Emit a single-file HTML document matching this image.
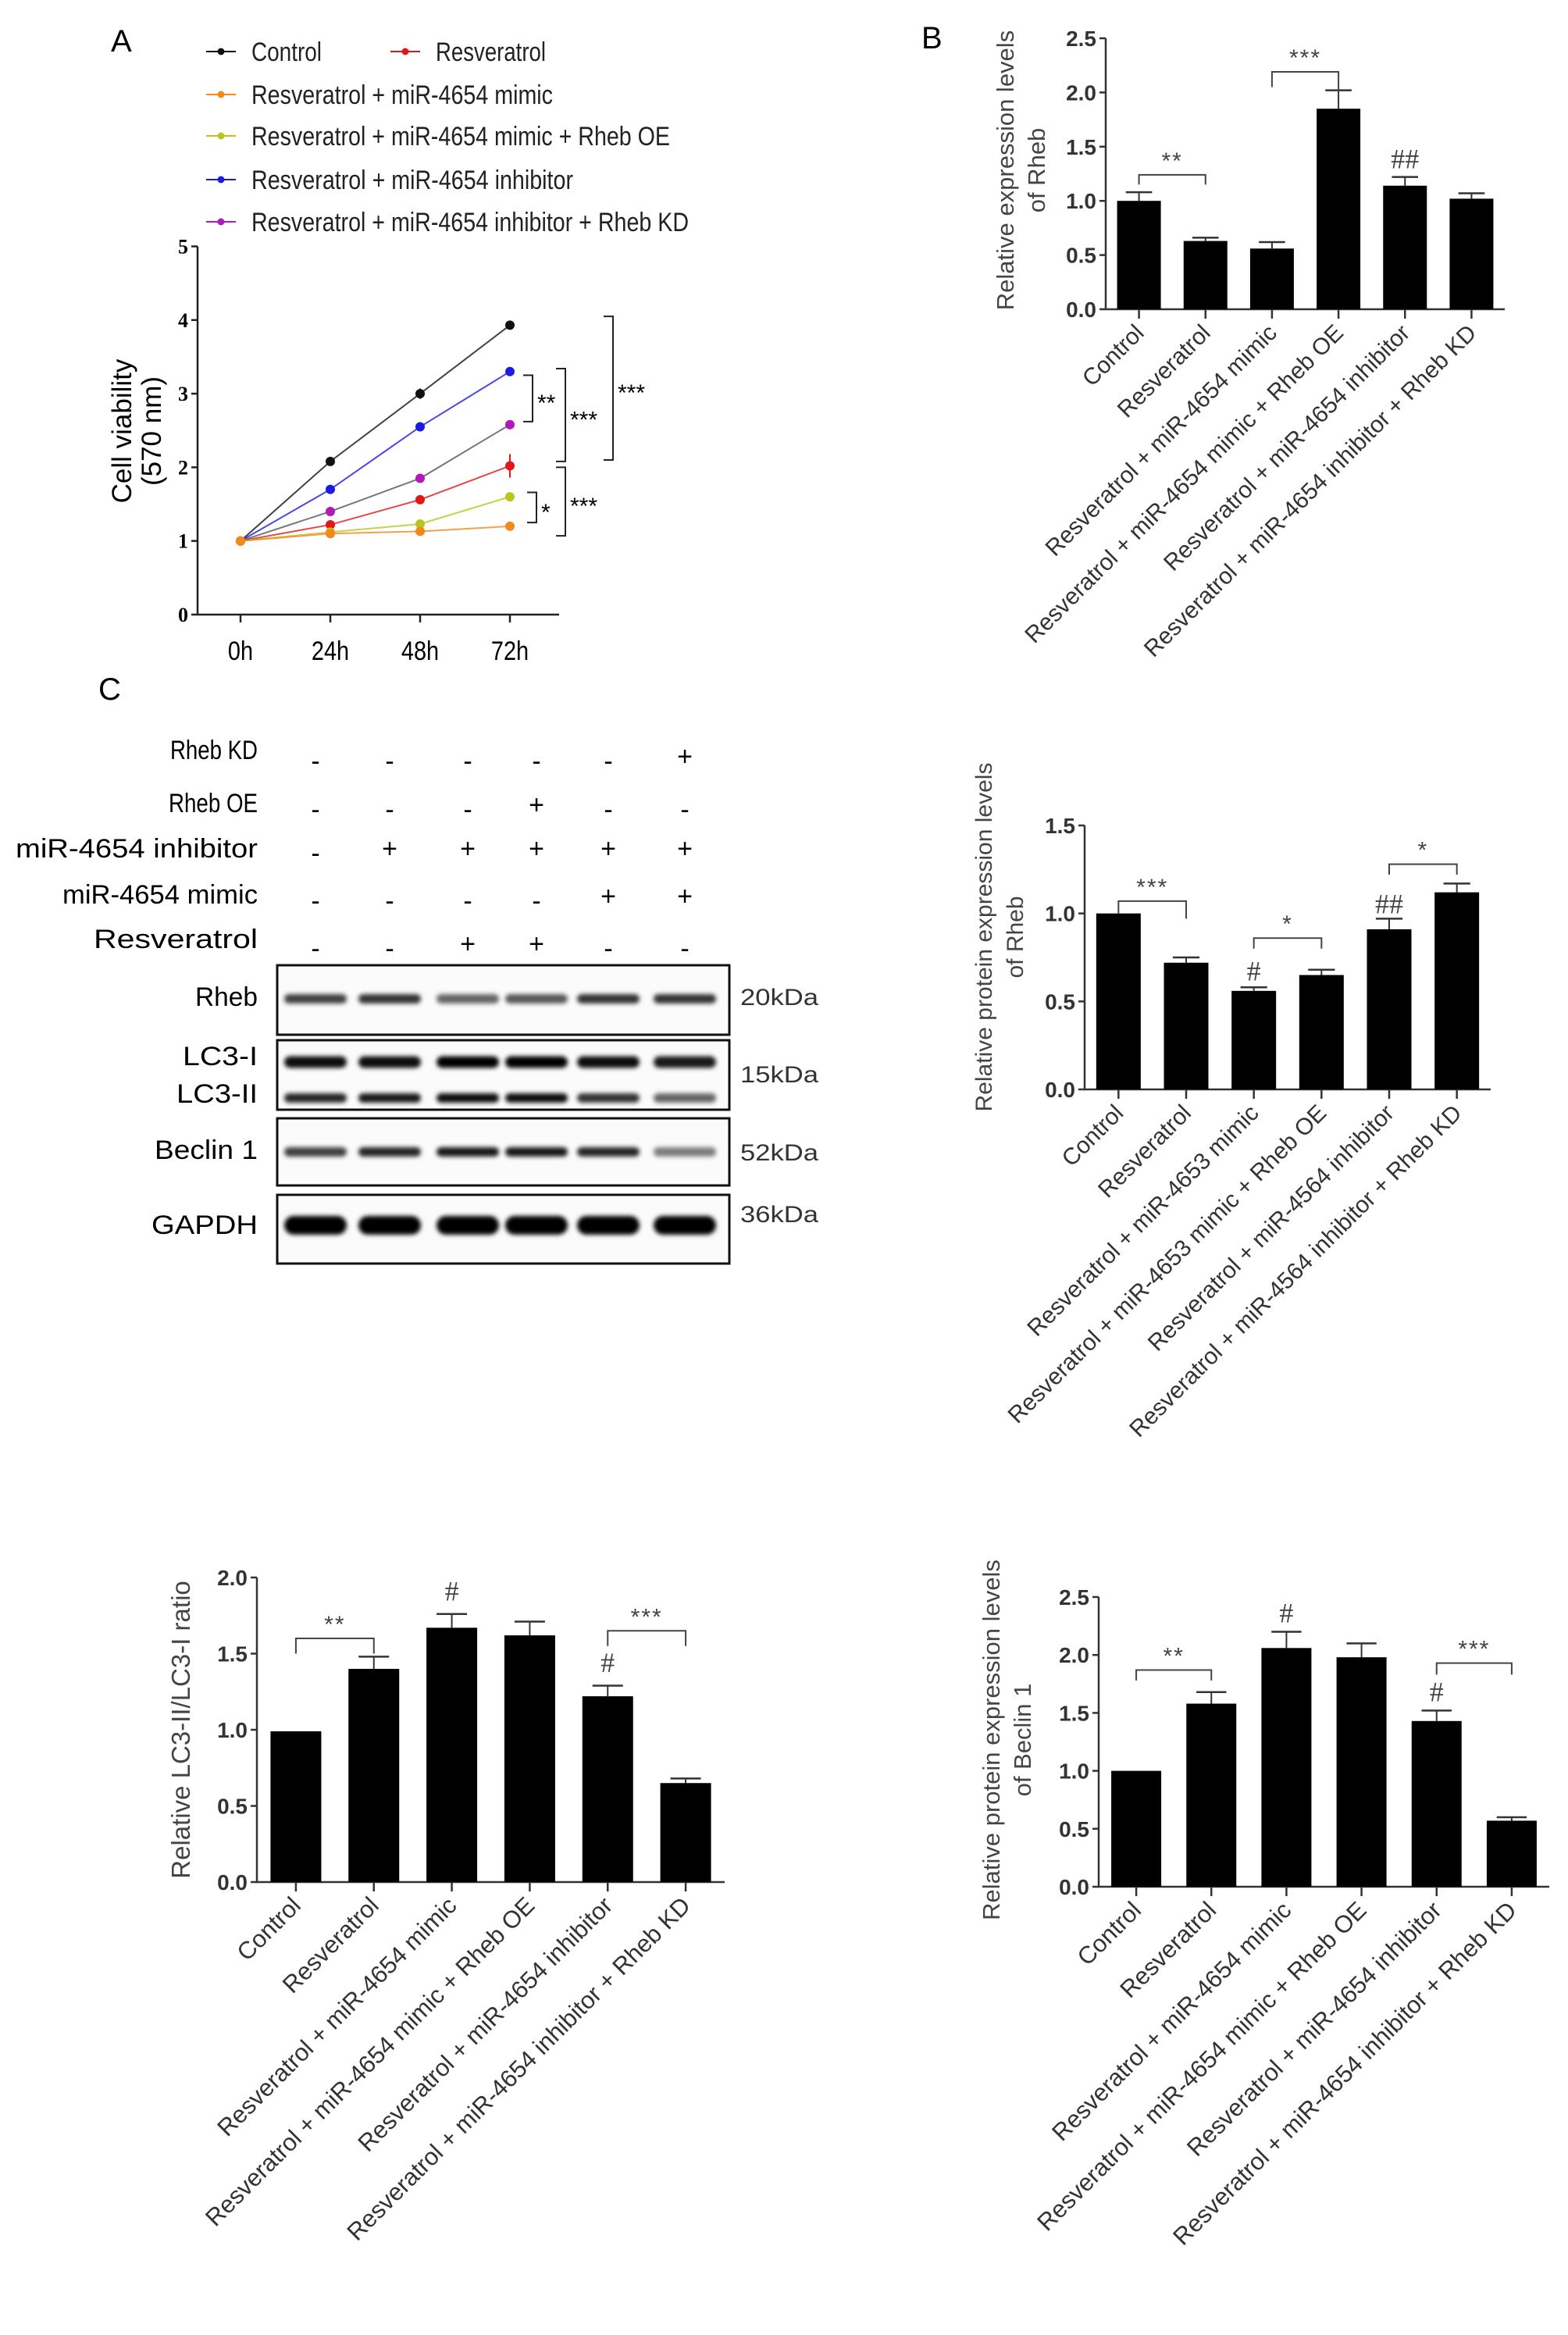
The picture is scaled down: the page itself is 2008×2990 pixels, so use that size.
<!DOCTYPE html>
<html><head><meta charset="utf-8"><style>
html,body{margin:0;padding:0;background:#fff;}
svg{display:block;font-family:"Liberation Sans",Arial,sans-serif;}
</style></head><body>
<svg id="fig" width="2008" height="2990" viewBox="0 0 2008 2990" xmlns="http://www.w3.org/2000/svg">
<defs><filter id="blur" x="-20%" y="-80%" width="140%" height="260%"><feGaussianBlur stdDeviation="3"/></filter></defs>
</svg>
<script>
// ---- Panel A data ----
const timeLabels = ["0h","24h","48h","72h"];
const seriesNames = ["Control","Resveratrol","Resveratrol + miR-4654 mimic","Resveratrol + miR-4654 mimic + Rheb OE","Resveratrol + miR-4654 inhibitor","Resveratrol + miR-4654 inhibitor + Rheb KD"];
const seriesColors = ["#111111","#e01818","#f08a1c","#b8c61e","#1a1ae0","#b01ab8"];
const valControl = [1.0, 2.08, 3.0, 3.93];
const valResv = [1.0, 1.22, 1.56, 2.02];
const valMimic = [1.0, 1.10, 1.13, 1.20];
const valMimicOE = [1.0, 1.12, 1.23, 1.60];
const valInhib = [1.0, 1.70, 2.55, 3.30];
const valInhibKD = [1.0, 1.40, 1.85, 2.58];
const errA = [0.04, 0.03, 0.06, 0.16];
const yTicksA = [0,1,2,3,4,5];

// ---- Bar charts data ----
const catsB = ["Control","Resveratrol","Resveratrol + miR-4654 mimic","Resveratrol + miR-4654 mimic + Rheb OE","Resveratrol + miR-4654 inhibitor","Resveratrol + miR-4654 inhibitor + Rheb KD"];
const valsB = [1.0, 0.63, 0.56, 1.85, 1.14, 1.02];
const errsB = [0.08, 0.03, 0.06, 0.17, 0.08, 0.05];
const ticksB = [0, 0.5, 1.0, 1.5, 2.0, 2.5];

const catsRheb = ["Control","Resveratrol","Resveratrol + miR-4653 mimic","Resveratrol + miR-4653 mimic + Rheb OE","Resveratrol + miR-4564 inhibitor","Resveratrol + miR-4564 inhibitor + Rheb KD"];
const valsRheb = [1.0, 0.72, 0.56, 0.65, 0.91, 1.12];
const errsRheb = [0, 0.03, 0.02, 0.03, 0.06, 0.05];
const ticksRheb = [0, 0.5, 1.0, 1.5];

const catsLC3 = catsB;
const valsLC3 = [0.99, 1.40, 1.67, 1.62, 1.22, 0.65];
const errsLC3 = [0, 0.08, 0.09, 0.09, 0.07, 0.03];
const ticksLC3 = [0, 0.5, 1.0, 1.5, 2.0];

const catsBec = catsB;
const valsBec = [1.0, 1.58, 2.06, 1.98, 1.43, 0.57];
const errsBec = [0, 0.10, 0.14, 0.12, 0.09, 0.03];
const ticksBec = [0, 0.5, 1.0, 1.5, 2.0, 2.5];

// ---- Blot data ----
const treatRows = ["Rheb KD","Rheb OE","miR-4654 inhibitor","miR-4654 mimic","Resveratrol"];
const treatSigns = [["-","-","-","-","-","+"],["-","-","-","+","-","-"],["-","+","+","+","+","+"],["-","-","-","-","+","+"],["-","-","+","+","-","-"]];
const bandRheb = [0.75,0.8,0.6,0.65,0.8,0.8];
const bandLC3I = [0.95,0.95,1,1,0.95,0.9];
const bandLC3II = [0.85,0.9,0.95,0.95,0.8,0.6];
const bandBeclin = [0.75,0.85,0.9,0.9,0.85,0.5];
const bandGAPDH = [1,1,1,1,1,1];

const svg = document.getElementById('fig');
const NS = "http://www.w3.org/2000/svg";
function mk(tag, attrs, parent, text){
  const e = document.createElementNS(NS, tag);
  for (const k in attrs) e.setAttribute(k, attrs[k]);
  if (text !== undefined) e.textContent = text;
  (parent || svg).appendChild(e);
  return e;
}
function grp(name){ const g = mk('g', {});   return g; }

// ================= Panel A =================
(function(){
  const g = grp('panel-a-line-chart');
  const x0 = 253, xEnd = 716, y0 = 787, pxPerUnit = 94.3;
  const sx = i => 308 + i*115;
  const sy = v => y0 - v*pxPerUnit;
  let t = mk('text',{x:142,y:66,'font-size':40},g,'A');
   
  let ax = mk('path',{d:`M${x0},${sy(5)} L${x0},${y0} L${xEnd},${y0}`,stroke:'#222','stroke-width':2.5,fill:'none'},g);
   
  yTicksA.forEach(v=>{
    mk('line',{x1:x0-8,x2:x0,y1:sy(v),y2:sy(v),stroke:'#222','stroke-width':2.5},g);
    const tl = mk('text',{x:x0-12,y:sy(v)+9,'font-size':26,'font-family':'Liberation Serif, serif','font-weight':'bold','text-anchor':'end'},g,String(v));
     
  });
  timeLabels.forEach((l,i)=>{
    mk('line',{x1:sx(i),x2:sx(i),y1:y0,y2:y0+10,stroke:'#222','stroke-width':2.5},g);
    const tl = mk('text',{x:sx(i),y:845,'font-size':34,'text-anchor':'middle',transform:`translate(${sx(i)},0) scale(0.85,1) translate(${-sx(i)},0)`},g,l);
     
  });
  const yl = mk('text',{'font-size':35,'text-anchor':'middle',transform:'translate(168,552) rotate(-90)'},g);
   
  mk('tspan',{x:0,y:0},yl,'Cell viability');
  mk('tspan',{x:0,y:38},yl,'(570 nm)');
  const allSeries = [valControl,valResv,valMimic,valMimicOE,valInhib,valInhibKD];
  const order = [0,4,5,1,3,2];
  order.forEach(si=>{
    const vals = allSeries[si], c = seriesColors[si];
    const lineCol = (si===5)? '#555' : c;
    const pts = vals.map((v,i)=>`${sx(i)},${sy(v)}`).join(' ');
    const pl = mk('polyline',{points:pts,fill:'none',stroke:lineCol,'stroke-width':2,'stroke-opacity':0.8},g);
     
    vals.forEach((v,i)=>{
      if (si===1 && i===3){ mk('line',{x1:sx(i),x2:sx(i),y1:sy(v+errA[i]),y2:sy(v-errA[i]),stroke:c,'stroke-width':2},g); }
      if (si===0 && i===2){ mk('line',{x1:sx(i),x2:sx(i),y1:sy(v+0.07),y2:sy(v-0.07),stroke:c,'stroke-width':2},g); }
      const p = mk('circle',{cx:sx(i),cy:sy(v),r:6,fill:c},g);
       
    });
  });
  const legY = [56,56,111,164,220,274];
  const legX = [264,500,264,264,264,264];
  const legLen = [90,141,386,536,412,560];
  seriesNames.forEach((n,i)=>{
    const lg = mk('g',{},g);
     
    mk('line',{x1:legX[i],x2:legX[i]+38,y1:legY[i]+10,y2:legY[i]+10,stroke:seriesColors[i],'stroke-width':2},lg);
    mk('circle',{cx:legX[i]+19,cy:legY[i]+10,r:4.5,fill:seriesColors[i]},lg);
    mk('text',{x:legX[i]+58,y:legY[i]+22,'font-size':34,textLength:legLen[i],lengthAdjust:'spacingAndGlyphs',fill:'#222'},lg,n);
  });
  function br(x, v1, v2, label){
    const b = mk('g',{},g);
     
    mk('path',{d:`M${x-12},${sy(v1)} L${x},${sy(v1)} L${x},${sy(v2)} L${x-12},${sy(v2)}`,fill:'none',stroke:'#222','stroke-width':2},b);
    mk('text',{x:x+6,y:(sy(v1)+sy(v2))/2+16,'font-size':30},b,label);
  }
  br(682,3.25,2.62,'**'); br(724,3.34,2.08,'***'); br(785,4.05,2.1,'***');
  br(687,1.66,1.25,'*'); br(724,2.0,1.07,'***');
})();

// ================= Bar chart helper =================
function barChart(cfg){
  const g = grp(cfg.name);
  const {x0,xEnd,y0,yTop,vmax,cats,vals,errs,ticks,barW} = cfg;
  const sy = v => y0 - (v/vmax)*(y0-yTop);
  const step = (xEnd-x0)/cats.length;
  const sx = i => x0 + step*(i+0.5);
  const ax = mk('path',{d:`M${x0},${yTop} L${x0},${y0} L${xEnd},${y0}`,stroke:'#333','stroke-width':2.5,fill:'none'},g);
   
  ticks.forEach(v=>{
    mk('line',{x1:x0-8,x2:x0,y1:sy(v),y2:sy(v),stroke:'#333','stroke-width':2.5},g);
    const tl = mk('text',{x:x0-12,y:sy(v)+10,'font-size':28,'font-weight':'bold','text-anchor':'end',fill:'#333'},g,v.toFixed(1));
     
  });
  cats.forEach((c,i)=>{
    const cx = sx(i);
    mk('line',{x1:cx,x2:cx,y1:y0,y2:y0+12,stroke:'#333','stroke-width':2.5},g);
    const v = vals[i], e = errs[i];
    if (e>0){
      mk('line',{x1:cx,x2:cx,y1:sy(v),y2:sy(v+e),stroke:'#333','stroke-width':2},g);
      mk('line',{x1:cx-barW*0.3,x2:cx+barW*0.3,y1:sy(v+e),y2:sy(v+e),stroke:'#333','stroke-width':2.5},g);
    }
    const r = mk('rect',{x:cx-barW/2,y:sy(v),width:barW,height:y0-sy(v),fill:'#000'},g);
     
    const lx = cx+8, ly = y0+32;
    const tl = mk('text',{x:lx,y:ly,'font-size':cfg.catFont||30,'text-anchor':'end',fill:'#333',transform:`rotate(-45 ${lx} ${ly})`},g,c);
     
  });
  const yl = mk('text',{'font-size':cfg.ylFont||30,'text-anchor':'middle',fill:'#444',transform:`translate(${cfg.ylX},${cfg.ylY}) rotate(-90)`},g);
   
  cfg.ylLines.forEach((l,k)=>mk('tspan',{x:0,y:k*40},yl,l));
  (cfg.brackets||[]).forEach(b=>{
    const bg = mk('g',{},g);
     
    const xa = sx(b[0]), xb = sx(b[1]);
    mk('path',{d:`M${xa},${sy(b[3])} L${xa},${sy(b[2])} L${xb},${sy(b[2])} L${xb},${sy(b[4])}`,fill:'none',stroke:'#444','stroke-width':2},bg);
    mk('text',{x:(xa+xb)/2,y:sy(b[2])-8,'font-size':30,'text-anchor':'middle',fill:'#444','letter-spacing':2},bg,b[5]);
  });
  (cfg.hashes||[]).forEach(h=>{
    const t = mk('text',{x:sx(h[0]),y:sy(h[1]),'font-size':36,'font-family':'Liberation Serif, serif','text-anchor':'middle',fill:'#444'},g,h[2]);
     
  });
  return g;
}

const lb = mk('text',{x:1180,y:62,'font-size':40},svg,'B');


barChart({name:'panel-b-rheb-expression',x0:1416,xEnd:1927,y0:396,yTop:49,vmax:2.5,cats:catsB,vals:valsB,errs:errsB,ticks:ticksB,barW:56,
  ylX:1298,ylY:218,ylFont:31,ylLines:['Relative expression levels','of Rheb'],
  brackets:[[0,1,1.24,1.15,1.15,'**'],[2,3,2.19,2.05,2.02,'***']],hashes:[[4,1.3,'##']]});
barChart({name:'panel-c-rheb-protein',x0:1389,xEnd:1909,y0:1395,yTop:1057,vmax:1.5,cats:catsRheb,vals:valsRheb,errs:errsRheb,ticks:ticksRheb,barW:57,
  ylX:1270,ylY:1200,ylFont:30,ylLines:['Relative protein expression levels','of Rheb'],
  brackets:[[0,1,1.07,1.0,0.97,'***'],[2,3,0.86,0.8,0.8,'*'],[4,5,1.28,1.22,1.22,'*']],hashes:[[2,0.62,'#'],[4,1.0,'##']]});
barChart({name:'lc3-ratio-chart',x0:329,xEnd:928,y0:2410,yTop:2020,vmax:2.0,cats:catsLC3,vals:valsLC3,errs:errsLC3,ticks:ticksLC3,barW:65,catFont:31,ylFont:33,
  ylX:243,ylY:2215,ylLines:['Relative  LC3-II/LC3-I ratio'],
  brackets:[[0,1,1.6,1.5,1.5,'**'],[4,5,1.65,1.55,1.55,'***']],hashes:[[2,1.85,'#'],[4,1.38,'#']]});
barChart({name:'beclin1-chart',x0:1407,xEnd:1984,y0:2416,yTop:2045,vmax:2.5,cats:catsBec,vals:valsBec,errs:errsBec,ticks:ticksBec,barW:64,catFont:31,ylFont:31,
  ylX:1280,ylY:2228,ylLines:['Relative protein expression levels','of Beclin 1'],
  brackets:[[0,1,1.87,1.78,1.78,'**'],[4,5,1.93,1.83,1.83,'***']],hashes:[[2,2.28,'#'],[4,1.6,'#']]});

// ================= Panel C blot =================
(function(){
  const g = grp('western-blot');
  const t = mk('text',{x:126,y:896,'font-size':40},g,'C');
   
  const laneX = [404,499,599,687,779,877];
  const rowY = [972,1034,1090,1151,1212];
  const rowLabelY = [972,1040,1098,1157,1214];
  const rowLen = [112,114,310,250,210];
  treatRows.forEach((r,i)=>{
    const tl = mk('text',{x:330,y:rowLabelY[i],'font-size':34,'text-anchor':'end',textLength:rowLen[i],lengthAdjust:'spacingAndGlyphs'},g,r);
     
    treatSigns[i].forEach((s,j)=>{
      const st = mk('text',{x:laneX[j],y:rowY[i]+(s==='+'?8:14),'font-size':34,'text-anchor':'middle'},g,s);
       
    });
  });
  const boxes = [[1236,1325],[1332,1421],[1432,1518],[1530,1618]];
  boxes.forEach(b=>{
    const r = mk('rect',{x:355,y:b[0],width:579,height:b[1]-b[0],fill:'#fbfbfb',stroke:'#111','stroke-width':3},g);
     
  });
  function bands(arr, y, h){
    arr.forEach((a,j)=>{
      const e = mk('rect',{x:laneX[j]-40,y:y-h/2,width:80,height:h,rx:h/2,fill:'#000','fill-opacity':a,filter:'url(#blur)'},g);
       
    });
  }
  bands(bandRheb,1279,12); bands(bandLC3I,1360,15); bands(bandLC3II,1406,12);
  bands(bandBeclin,1475,12); bands(bandGAPDH,1569,24);
  const lanes = [['Rheb',1288,80],['LC3-I',1364,96],['LC3-II',1412,104],['Beclin 1',1484,132],['GAPDH',1580,136]];
  lanes.forEach(l=>{
    const tl = mk('text',{x:330,y:l[1],'font-size':34,'text-anchor':'end',textLength:l[2],lengthAdjust:'spacingAndGlyphs'},g,l[0]);
     
  });
  [['20kDa',1287],['15kDa',1386],['52kDa',1486],['36kDa',1565]].forEach(k=>{
    const tl = mk('text',{x:948,y:k[1],'font-size':30,textLength:100,lengthAdjust:'spacingAndGlyphs',fill:'#333'},g,k[0]);
     
  });
})();
</script>
</body></html>
